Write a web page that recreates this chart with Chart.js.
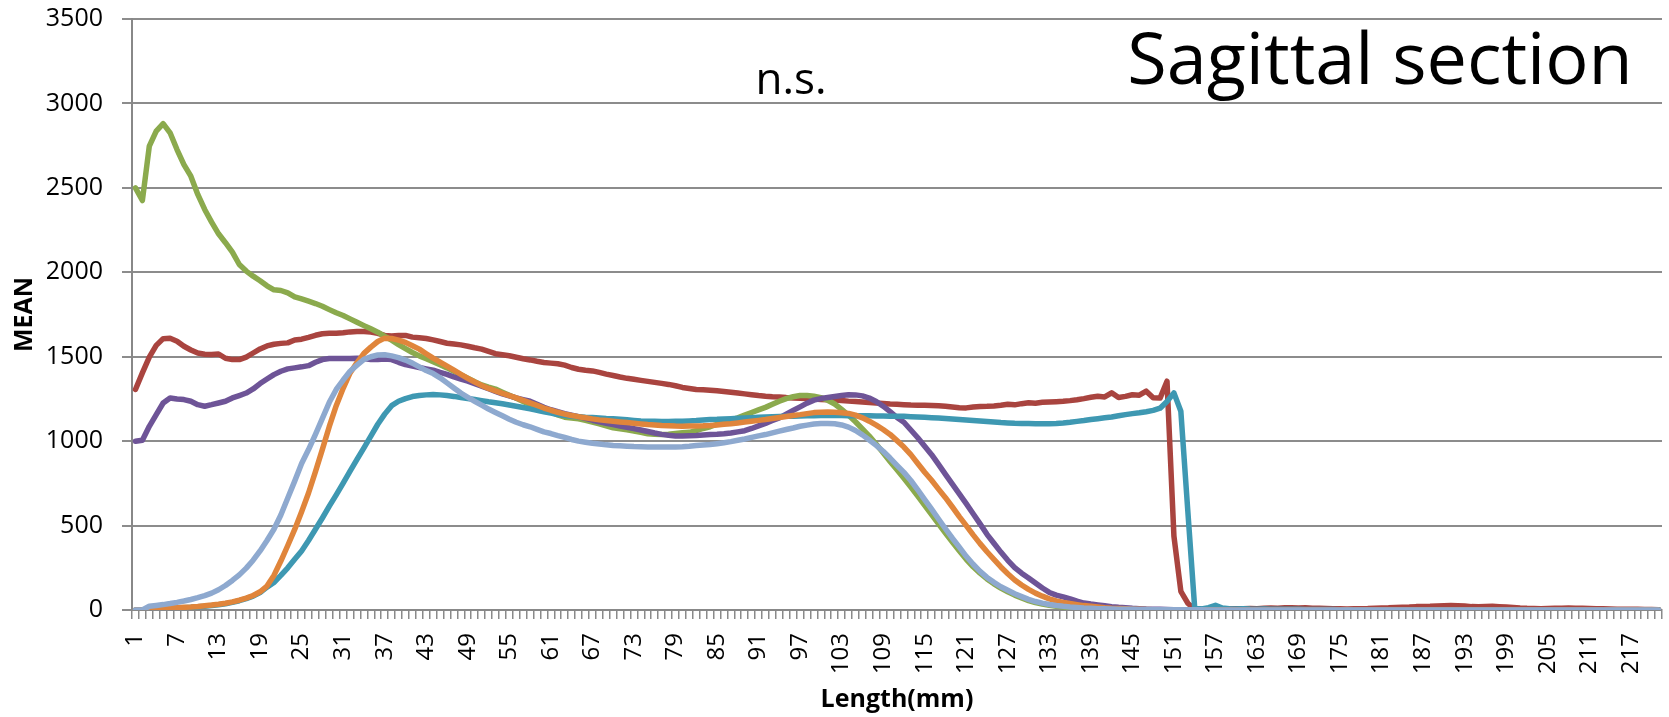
<!DOCTYPE html>
<html>
<head>
<meta charset="utf-8">
<script src="https://cdn.jsdelivr.net/npm/chart.js@4.4.1/dist/chart.umd.min.js"></script>
<style>
html,body{margin:0;padding:0;background:#fff;}
#wrap{position:relative;width:1669px;height:717px;overflow:hidden;}
canvas{display:block;}
.note{position:absolute;font-family:"Open Sans",sans-serif;color:#000;white-space:nowrap;line-height:1;}
#title{font-size:72px;left:1380px;top:20px;transform:translateX(-50%);}
#ns{font-size:44px;left:791px;top:55px;transform:translateX(-50%);}
</style>
</head>
<body>
<div id="wrap">
<canvas id="c" width="1669" height="717"></canvas>
<div class="note" id="title">Sagittal section</div>
<div class="note" id="ns">n.s.</div>
</div>
<script>
// Categories: Length (mm) 1..221
const categories = Array.from({length: 221}, (_, i) => String(i + 1));

const redSeries = [
1306,1404,1498,1567,1607,1609,1592,1562,1540,1522,1515,1513,1516,1491,1483,1483,1498,1522,1546,1564,
1574,1579,1582,1599,1604,1615,1627,1636,1639,1639,1642,1647,1649,1649,1646,1638,1626,1623,1626,1626,
1616,1612,1608,1600,1590,1580,1575,1570,1562,1553,1545,1532,1518,1512,1506,1497,1488,1481,1473,1466,
1462,1458,1450,1436,1426,1420,1416,1407,1397,1389,1380,1372,1366,1360,1354,1348,1342,1336,1328,1318,
1312,1306,1304,1302,1298,1294,1290,1285,1280,1275,1270,1266,1263,1261,1258,1256,1254,1252,1250,1247,
1245,1243,1240,1237,1235,1232,1229,1226,1223,1220,1218,1216,1214,1213,1212,1211,1209,1206,1202,1198,
1197,1202,1205,1206,1208,1212,1218,1215,1222,1227,1225,1230,1232,1234,1236,1240,1245,1252,1260,1266,
1262,1286,1258,1265,1275,1272,1296,1257,1255,1355,437,111,40,5,4,5,6,5,6,8,
7,9,8,10,12,11,13,14,12,13,11,10,9,8,7,6,7,8,9,11,
12,13,15,17,18,20,21,22,24,25,26,25,23,20,19,21,22,20,18,15,
12,10,9,8,9,10,11,12,11,10,9,8,7,6,5,5,4,4,3,3,2
];

const greenSeries = [
2500,2425,2747,2836,2880,2826,2727,2638,2569,2461,2372,2297,2228,2175,2119,2046,2007,1977,1950,1920,
1896,1892,1878,1854,1842,1829,1815,1799,1779,1760,1744,1724,1704,1684,1665,1645,1621,1598,1572,1548,
1525,1505,1488,1470,1452,1434,1414,1393,1373,1352,1333,1320,1308,1290,1272,1254,1235,1217,1203,1190,
1172,1155,1142,1137,1132,1123,1113,1103,1091,1079,1073,1067,1060,1052,1044,1041,1039,1041,1046,1050,
1052,1062,1075,1085,1100,1112,1124,1138,1154,1170,1185,1200,1218,1236,1252,1263,1270,1270,1266,1258,
1242,1220,1188,1153,1115,1073,1030,982,931,880,830,780,728,675,620,565,510,455,402,350,
300,256,218,184,155,130,108,88,71,56,44,35,28,22,17,13,10,8,6,5,
4,3,3,2,2,1,1,1,1,1,0,0,0,0,0,0,0,0,0,0,
0,0,0,0,0,0,0,0,0,0,0,0,0,0,0,0,0,0,0,0,
0,0,0,0,0,0,0,0,0,0,0,0,0,0,0,0,0,0,0,0,
0,0,0,0,0,0,0,0,0,0,0,0,0,0,0,0,0,0,0,0,0
];

const purpleSeries = [
999,1005,1088,1157,1226,1256,1250,1246,1236,1216,1207,1216,1226,1236,1256,1270,1285,1309,1341,1368,
1394,1414,1428,1434,1440,1447,1467,1483,1489,1489,1489,1489,1491,1489,1483,1483,1487,1483,1467,1453,
1444,1436,1428,1420,1407,1395,1380,1367,1355,1340,1326,1310,1295,1280,1268,1256,1246,1236,1218,1200,
1186,1174,1163,1154,1145,1135,1124,1114,1106,1098,1090,1082,1074,1066,1057,1048,1040,1035,1031,1030,
1032,1033,1036,1039,1041,1044,1048,1055,1062,1075,1090,1105,1122,1138,1160,1182,1203,1225,1243,1252,
1258,1264,1270,1275,1274,1268,1255,1235,1207,1175,1140,1112,1066,1020,970,920,862,803,745,688,
630,570,510,448,395,343,294,251,218,190,160,130,104,88,78,66,52,41,35,30,
25,20,16,13,10,8,6,5,4,3,2,2,1,1,1,0,0,0,0,0,
0,0,0,0,0,0,0,0,0,0,0,0,0,0,0,0,0,0,0,0,
0,0,0,0,0,0,0,0,0,0,0,0,0,0,0,0,0,0,0,0,
0,0,0,0,0,0,0,0,0,0,0,0,0,0,0,0,0,0,0,0,0
];

const tealSeries = [
0,0,2,4,7,10,12,14,16,19,22,26,31,37,45,55,67,82,103,135,
163,205,250,300,350,412,478,545,615,682,752,822,892,960,1030,1100,1160,1210,1236,1252,
1264,1270,1274,1276,1274,1270,1265,1259,1253,1247,1240,1233,1227,1221,1214,1207,1199,1191,1183,1174,
1166,1158,1152,1148,1145,1142,1140,1137,1134,1132,1129,1126,1123,1120,1118,1118,1117,1117,1118,1118,
1120,1122,1125,1128,1129,1131,1133,1135,1137,1139,1141,1143,1145,1146,1147,1148,1149,1150,1151,1152,
1152,1152,1152,1151,1151,1150,1150,1149,1149,1148,1148,1147,1145,1143,1141,1139,1137,1134,1131,1128,
1125,1122,1119,1116,1113,1110,1108,1106,1105,1104,1103,1103,1103,1105,1108,1112,1117,1122,1128,1133,
1138,1143,1150,1157,1163,1168,1174,1182,1195,1235,1286,1177,590,12,6,14,28,12,8,6,
8,6,5,6,5,4,5,4,4,3,3,3,3,3,2,2,2,2,2,2,
2,2,2,2,2,2,2,2,2,2,2,2,2,2,2,2,2,2,2,2,
2,2,2,2,2,2,2,2,2,2,2,2,2,2,2,2,2,2,2,2,2
];

const orangeSeries = [
0,0,3,6,9,12,14,16,18,21,25,29,34,40,48,58,70,86,108,142,
205,290,382,477,582,693,820,951,1087,1210,1313,1404,1465,1520,1557,1590,1610,1608,1598,1585,
1565,1545,1518,1492,1468,1444,1420,1395,1372,1350,1330,1312,1298,1283,1270,1256,1242,1227,1212,1196,
1183,1171,1160,1152,1145,1139,1132,1126,1122,1118,1114,1110,1106,1102,1098,1096,1093,1091,1089,1088,
1089,1090,1091,1093,1096,1100,1103,1108,1113,1118,1123,1128,1134,1140,1146,1152,1157,1163,1169,1171,
1172,1171,1168,1164,1154,1138,1118,1095,1069,1040,1003,965,920,868,816,768,716,665,610,553,
500,445,393,345,300,255,215,178,148,122,100,82,66,54,45,38,32,26,22,18,
14,11,9,7,5,4,3,2,2,1,1,1,0,0,0,0,0,0,0,0,
0,0,0,0,0,0,0,0,0,0,0,0,0,0,0,0,0,0,0,0,
0,0,0,0,0,0,0,0,0,0,0,0,0,0,0,0,0,0,0,0,
0,0,0,0,0,0,0,0,0,0,0,0,0,0,0,0,0,0,0,0,0
];

const lightBlueSeries = [
0,0,22,27,32,38,45,53,62,73,85,100,120,145,175,208,248,295,350,412,
478,563,663,763,868,950,1040,1135,1230,1306,1362,1414,1450,1484,1500,1510,1512,1505,1495,1480,
1462,1440,1418,1400,1375,1345,1315,1285,1260,1236,1213,1190,1170,1150,1130,1112,1097,1085,1070,1055,
1045,1033,1022,1010,1000,994,988,983,978,974,972,970,968,967,966,966,965,965,966,967,
970,974,977,980,985,990,997,1005,1013,1022,1031,1039,1049,1059,1069,1078,1088,1095,1101,1104,
1105,1103,1096,1083,1063,1037,1007,975,940,900,857,815,767,712,654,597,539,481,425,372,
318,271,229,193,164,138,117,96,79,63,50,41,33,27,22,18,15,12,10,8,
7,6,5,4,4,3,3,2,2,2,1,1,1,1,1,0,0,0,0,0,
0,0,0,0,0,0,0,0,0,0,0,0,0,0,0,0,0,0,0,0,
0,0,0,0,0,0,0,0,0,0,0,0,0,0,0,0,0,0,0,0,
0,0,0,0,0,0,0,0,0,0,0,0,0,0,0,0,0,0,0,0,0
];

const yMin = 0, yMax = 3500, yStep = 500;
const labelEvery = 6;

const seriesList = [
  {name: 'S2', data: redSeries,       color: '#A9443F', order: 6},
  {name: 'S3', data: greenSeries,     color: '#8BAA4D', order: 5},
  {name: 'S4', data: purpleSeries,    color: '#6E5497', order: 4},
  {name: 'S5', data: tealSeries,      color: '#3E98B2', order: 3},
  {name: 'S6', data: orangeSeries,    color: '#E0853B', order: 2},
  {name: 'S7', data: lightBlueSeries, color: '#8EA9CF', order: 1}
];
seriesList.forEach(s => { if (s.data.length !== categories.length) console.error(s.name + ' length ' + s.data.length); });

Chart.defaults.font.family = '"Open Sans", sans-serif';
Chart.defaults.color = '#000';

new Chart(document.getElementById('c'), {
  type: 'line',
  data: {
    labels: categories,
    datasets: seriesList.map(s => ({
      label: s.name,
      data: s.data,
      borderColor: s.color,
      backgroundColor: s.color,
      order: s.order,
      fill: false
    }))
  },
  options: {
    responsive: false,
    animation: false,
    layout: {padding: {left: 10, right: 7, top: 19, bottom: 0}},
    plugins: {legend: {display: false}, tooltip: {enabled: false}, title: {display: false}},
    elements: {
      point: {radius: 0, hoverRadius: 0},
      line: {borderWidth: 5.5, tension: 0, borderJoinStyle: 'round', borderCapStyle: 'round'}
    },
    scales: {
      x: {
        type: 'category',
        offset: true,
        grid: {offset: true, drawOnChartArea: false, drawTicks: true, tickLength: 9, color: '#8a8a8a', lineWidth: 1.5},
        border: {display: true, color: '#888888', width: 2},
        ticks: {
          autoSkip: false, maxRotation: 90, minRotation: 90, padding: 14,
          font: {size: 24},
          callback: function(v, i) { return i % labelEvery === 0 ? this.getLabelForValue(v) : ''; }
        },
        title: {display: true, text: 'Length(mm)', font: {size: 25, weight: 'bold'}, padding: {top: 0, bottom: 2}},
        afterFit: function(s) { s.height = 107; s.paddingLeft = 0; s.paddingRight = 0; }
      },
      y: {
        min: yMin, max: yMax,
        ticks: {stepSize: yStep, padding: 19, font: {size: 25}, callback: v => String(v)},
        grid: {color: '#8c8c8c', lineWidth: 2, tickLength: 10, drawTicks: true},
        border: {display: true, color: '#888888', width: 2},
        title: {display: true, text: 'MEAN', font: {size: 25, weight: 'bold'}, padding: 0},
        afterFit: function(s) { s.width = 122; s.paddingTop = 0; s.paddingBottom = 0; }
      }
    }
  }
});
</script>
</body>
</html>
